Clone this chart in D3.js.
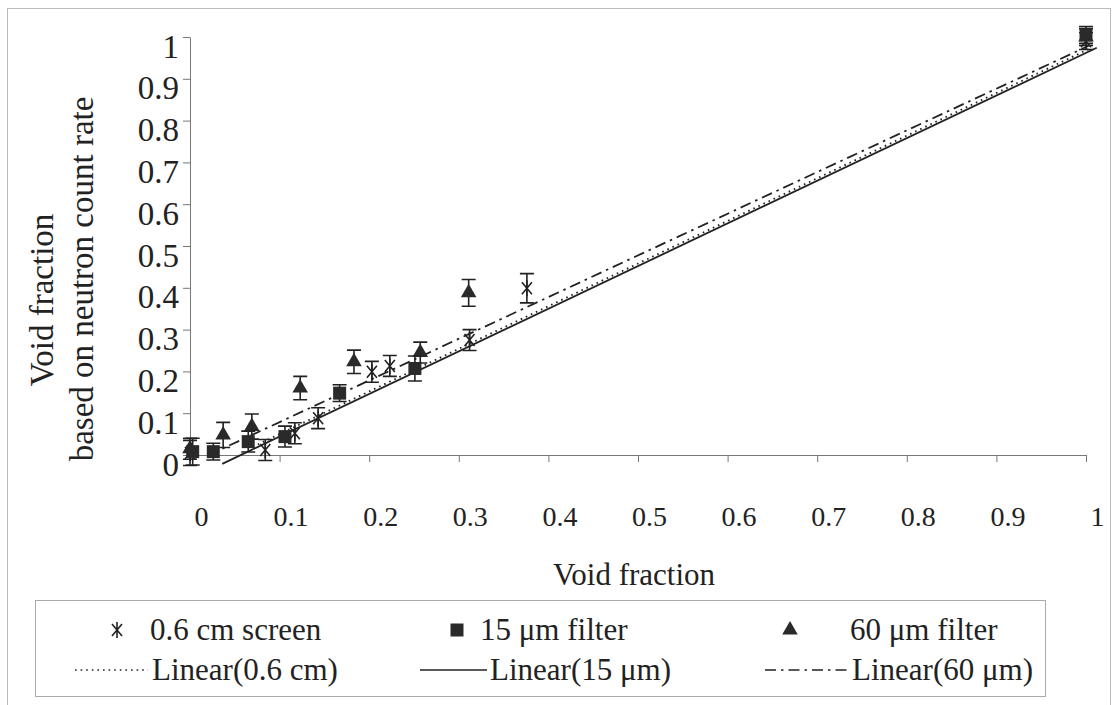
<!DOCTYPE html>
<html>
<head>
<meta charset="utf-8">
<script src="https://cdn.jsdelivr.net/npm/d3@7"></script>
<style>
  body { margin: 0; background: #fff; }
  svg { display: block; }
</style>
</head>
<body>
<svg id="svg" width="1113" height="705"></svg>
<script>
// ── Data ──
const xTicks = [0, 0.1, 0.2, 0.3, 0.4, 0.5, 0.6, 0.7, 0.8, 0.9, 1];
const yTicks = [0, 0.1, 0.2, 0.3, 0.4, 0.5, 0.6, 0.7, 0.8, 0.9, 1];

// 0.6 cm screen
const screenX   = [0, 0.084, 0.117, 0.143, 0.203, 0.223, 0.312, 0.376, 1.0];
const screenY   = [0.005, 0.012, 0.052, 0.088, 0.199, 0.213, 0.275, 0.399, 0.99];
const screenErr = [0.03, 0.025, 0.025, 0.025, 0.025, 0.025, 0.025, 0.035, 0.02];

// 15 µm filter
const filter15X   = [0.003, 0.026, 0.065, 0.106, 0.167, 0.251, 1.0];
const filter15Y   = [0.008, 0.008, 0.032, 0.044, 0.148, 0.207, 1.005];
const filter15Err = [0.032, 0.02, 0.025, 0.025, 0.02, 0.03, 0.02];

// 60 µm filter
const filter60X   = [0, 0.037, 0.069, 0.123, 0.183, 0.257, 0.311, 1.0];
const filter60Y   = [0.015, 0.048, 0.068, 0.160, 0.223, 0.245, 0.388, 1.0];
const filter60Err = [0.025, 0.03, 0.03, 0.028, 0.028, 0.025, 0.032, 0.02];

// linear trendlines: slope, intercept, x range
const trendScreen = { slope: 1.02, intercept: -0.052, from: 0.07, to: 1.007 };
const trend15     = { slope: 1.02, intercept: -0.058, from: 0.036, to: 1.012 };
const trend60     = { slope: 0.997, intercept: -0.021, from: 0.02, to: 1.003 };

const svg = d3.select('#svg');
const ink = '#222';
const serif = 'Liberation Serif, Times New Roman, serif';

// outer chart frame
svg.append('rect')
  .attr('x', 7.5).attr('y', 8.5).attr('width', 1103).attr('height', 705)
  .attr('fill', 'none').attr('stroke', '#bbb');

const x = d3.scaleLinear().domain([0, 1]).range([190, 1086]);
const y = d3.scaleLinear().domain([0, 1]).range([455, 37]);

// ── Axes ──
const xAxis = svg.append('g').attr('transform', `translate(0,${y(0)})`)
  .call(d3.axisBottom(x).tickValues(xTicks).tickSize(7).tickSizeOuter(0).tickFormat(d3.format('')));
xAxis.select('.domain').attr('stroke', '#777');
xAxis.selectAll('line').attr('stroke', '#777');
xAxis.selectAll('text')
  .attr('fill', ink).attr('font-size', 28).attr('dx', 11).attr('dy', 71).attr('y', 0);

const yAxis = svg.append('g').attr('transform', `translate(${x(0)},0)`)
  .call(d3.axisLeft(y).tickValues(yTicks).tickSize(7).tickSizeOuter(0).tickFormat(d3.format('')));
yAxis.select('.domain').attr('stroke', '#777');
yAxis.selectAll('line').attr('stroke', '#777');
yAxis.selectAll('text')
  .attr('fill', ink).attr('font-size', 33).attr('x', -11).attr('dy', 20);

// axis titles
svg.append('text')
  .attr('x', 634).attr('y', 585).attr('text-anchor', 'middle')
  .attr('font-size', 31).attr('fill', ink).text('Void fraction');

const yTitle = svg.append('g').attr('transform', 'translate(0,290) rotate(-90)');
yTitle.append('text').attr('x', -10).attr('y', 53).attr('text-anchor', 'middle')
  .attr('font-size', 33).attr('fill', ink).text('Void fraction');
yTitle.append('text').attr('x', 11).attr('y', 93).attr('text-anchor', 'middle')
  .attr('font-size', 33).attr('fill', ink).text('based on neutron count rate');

// ── Trendlines ──
const plot = svg.append('g');
function trendLine(t, dash) {
  const pts = [t.from, t.to].map(v => [v, t.slope * v + t.intercept]);
  plot.append('path')
    .attr('d', d3.line().x(d => x(d[0])).y(d => y(d[1]))(pts))
    .attr('fill', 'none').attr('stroke', ink).attr('stroke-width', 1.8)
    .attr('stroke-dasharray', dash);
}
trendLine(trend15, null);
trendLine(trendScreen, '1.6,4');
trendLine(trend60, '11,5,2.5,5');

// ── Markers ──
function asterisk(g) {
  g.append('path').attr('d', 'M-5,-6L5,6M-5,6L5,-6M0,-8L0,8')
    .attr('stroke', ink).attr('stroke-width', 1.6).attr('fill', 'none');
}
function square(g) {
  g.append('rect').attr('x', -6.5).attr('y', -6.5).attr('width', 13).attr('height', 13).attr('fill', '#2a2a2a');
}
function triangle(g) {
  g.append('path').attr('d', d3.symbol(d3.symbolTriangle, 105)()).attr('fill', '#2a2a2a');
}

function series(xs, ys, errs, marker) {
  const data = xs.map((v, i) => ({ x: v, y: ys[i], e: errs[i] }));
  const g = plot.append('g').selectAll('g').data(data).join('g');
  g.append('path')
    .attr('d', d => {
      const cx = x(d.x), lo = y(d.y - d.e), hi = y(d.y + d.e);
      return `M${cx},${lo}L${cx},${hi}M${cx - 7},${hi}L${cx + 7},${hi}M${cx - 7},${lo}L${cx + 7},${lo}`;
    })
    .attr('stroke', ink).attr('stroke-width', 1.6).attr('fill', 'none');
  g.append('g').attr('transform', d => `translate(${x(d.x)},${y(d.y)})`).each(function () { marker(d3.select(this)); });
}
series(screenX, screenY, screenErr, asterisk);
series(filter60X, filter60Y, filter60Err, triangle);
series(filter15X, filter15Y, filter15Err, square);

// ── Legend ──
const legend = svg.append('g');
legend.append('rect')
  .attr('x', 35.5).attr('y', 600.5).attr('width', 1010).attr('height', 96)
  .attr('fill', '#fff').attr('stroke', '#aaa');

const legendItems = [
  { label: '0.6 cm screen', mx: 117, tx: 150, row: 0, marker: asterisk },
  { label: '15 μm filter', mx: 457, tx: 480, row: 0, marker: square },
  { label: '60 μm filter', mx: 790, tx: 850, row: 0, marker: triangle },
  { label: 'Linear(0.6 cm)', lx: [75, 148], tx: 152, row: 1, dash: '1.6,4' },
  { label: 'Linear(15 μm)', lx: [420, 487], tx: 490, row: 1, dash: null },
  { label: 'Linear(60 μm)', lx: [765, 848], tx: 852, row: 1, dash: '11,5,2.5,5' },
];
const rowY = [630, 670];
legendItems.forEach(it => {
  const cy = rowY[it.row];
  if (it.marker) {
    const m = legend.append('g').attr('transform', `translate(${it.mx},${cy})`);
    it.marker(m);
  } else {
    legend.append('line').attr('x1', it.lx[0]).attr('x2', it.lx[1]).attr('y1', cy).attr('y2', cy)
      .attr('stroke', ink).attr('stroke-width', 1.6).attr('stroke-dasharray', it.dash);
  }
  legend.append('text').attr('x', it.tx).attr('y', cy + 10)
    .attr('font-size', 31).attr('fill', ink).text(it.label);
});

// Times-like face everywhere, axis text included
svg.selectAll('text').style('font-family', serif);
</script>
</body>
</html>
